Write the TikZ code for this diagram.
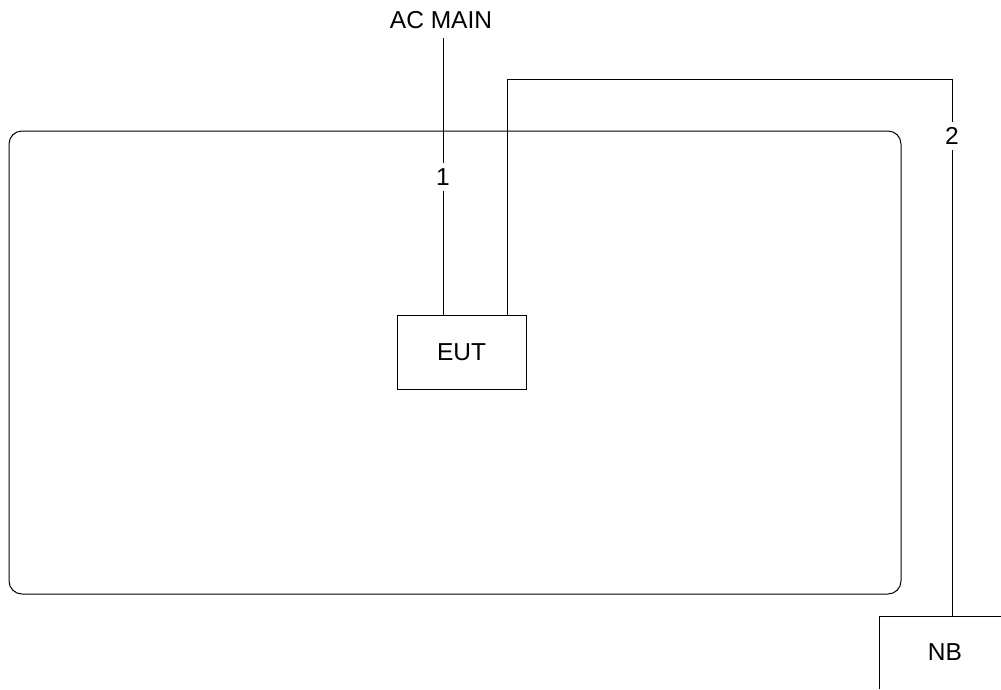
\documentclass[tikz,border=0pt]{standalone}
\usepackage{fontspec}
\setmainfont{Liberation Sans}
\begin{document}
\begin{tikzpicture}[x=1pt,y=-1pt,
  line width=1pt,
  lbl/.style={font=\fontsize{24.5}{28}\selectfont, inner sep=5pt},
  box/.style={draw, font=\fontsize{24.5}{28}\selectfont, inner sep=0pt}]
\useasboundingbox (0,0) rectangle (1001,689);
% outer rounded table
\draw[rounded corners=13pt] (9,131) rectangle (901,594);
% EUT
\node[box, minimum width=129pt, minimum height=74pt] (eut) at (461.5,352) {EUT};
% NB (partly outside the picture): only its left and top edges show
\node[lbl] (nb) at (945,652) {NB};
\coordinate (nbtr) at (1001,616);
\coordinate (nbtl) at (879,616);
\coordinate (nbbl) at (879,689);
\draw (nbtr) -- (nbtl) -- (nbbl);
% labels
\node[lbl] (ac) at (441,20) {AC MAIN};
\node[lbl] (one) at (443,177) {1};
\node[lbl] (two) at (952,136) {2};
% cable 1
\coordinate (e1) at (443,315);
\coordinate (a1) at (443,38);
\draw (a1) -- (one) -- (e1);
% cable 2
\coordinate (e2) at (507,315);
\coordinate (c1) at (507,79);
\coordinate (c2) at (952,79);
\draw (e2) -- (c1) -- (c2) -- (two);
\draw (two) -- (nbtl -| two);
\end{tikzpicture}
\end{document}
